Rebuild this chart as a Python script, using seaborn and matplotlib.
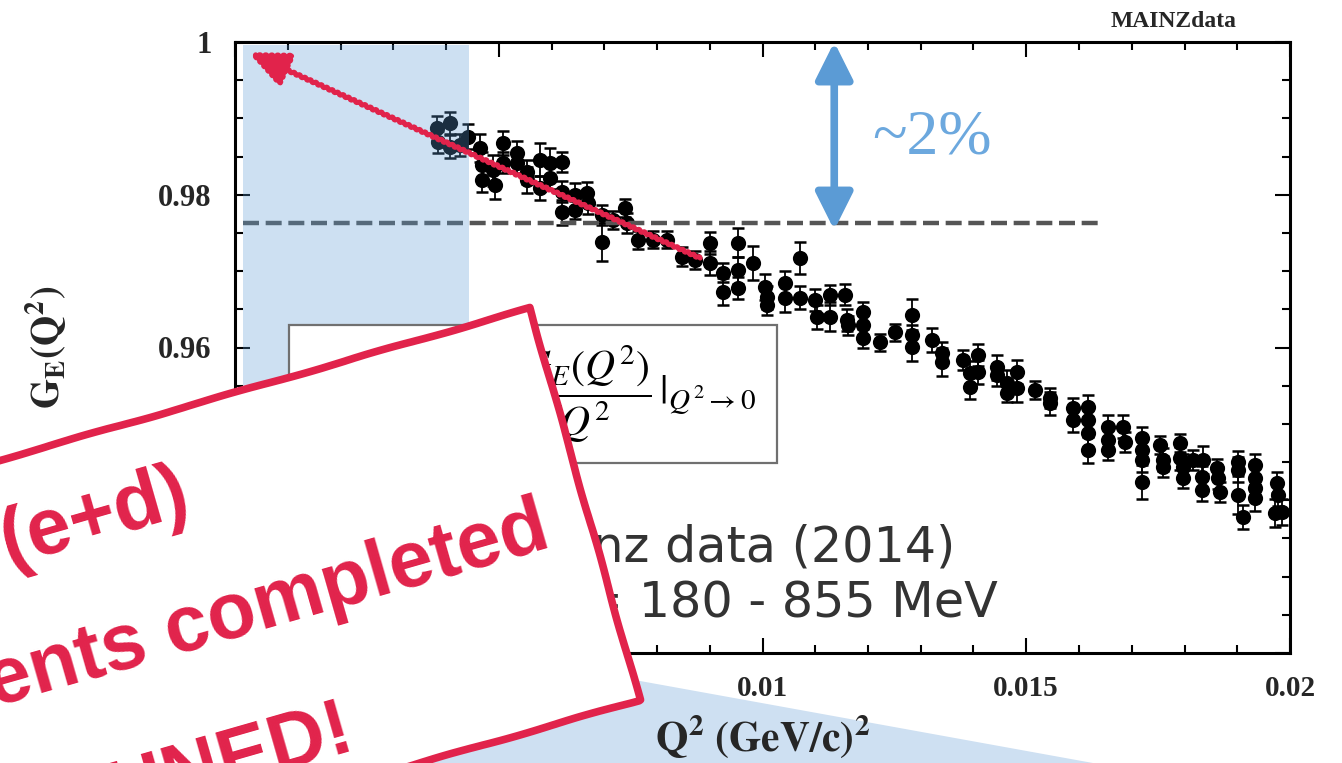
import numpy as np
import pandas as pd
import matplotlib
matplotlib.use("Agg")
import matplotlib.pyplot as plt
import seaborn as sns
from matplotlib.patches import Polygon, Rectangle
from matplotlib.ticker import FixedLocator, FixedFormatter, MultipleLocator

# ---------------------------------------------------------------------------
# Mainz electric form factor data: Q^2 in units of 1e-3 (GeV/c)^2
# ---------------------------------------------------------------------------
q2_milli = [
    3.83, 4.08, 3.85, 4.08, 4.27, 4.42, 4.64, 4.68, 4.68, 4.89,
    4.93, 5.08, 5.08, 5.35, 5.35, 5.54, 5.54, 5.78, 5.78, 5.97,
    5.97, 6.20, 6.20, 6.20, 6.45, 6.45, 6.67, 6.69, 6.96, 6.96,
    7.17, 7.39, 7.43, 7.64, 7.92, 8.19, 8.47, 8.72, 9.00, 9.00,
    9.25, 9.25, 9.54, 9.54, 9.54, 9.82, 10.05, 10.09, 10.09, 10.43,
    10.43, 10.71, 10.71, 11.00, 11.03, 11.28, 11.28, 11.56, 11.60, 11.62,
    11.91, 11.91, 11.91, 12.23, 12.51, 12.83, 12.83, 12.83, 13.21, 13.40,
    13.40, 13.80, 13.93, 13.93, 14.09, 14.09, 14.45, 14.45, 14.64, 14.64,
    14.82, 14.82, 15.17, 15.45, 15.45, 15.89, 15.89, 16.17, 16.17, 16.17,
    16.17, 16.55, 16.55, 16.55, 16.83, 16.87, 17.19, 17.19, 17.19, 17.19,
    17.54, 17.59, 17.59, 17.91, 17.91, 17.97, 17.97, 18.16, 18.35, 18.33,
    18.33, 18.62, 18.64, 18.67, 19.01, 19.01, 19.01, 19.11, 19.34, 19.34,
    19.34, 19.34, 19.75, 19.77, 19.72, 19.85,
]
ge = [
    0.9887, 0.9894, 0.9869, 0.9863, 0.9865, 0.9876, 0.9861, 0.9839, 0.9819, 0.9832,
    0.9813, 0.9868, 0.9842, 0.9855, 0.9842, 0.9830, 0.9819, 0.9846, 0.9809, 0.9842,
    0.9822, 0.9843, 0.9804, 0.9777, 0.9800, 0.9780, 0.9802, 0.9789, 0.9773, 0.9738,
    0.9767, 0.9783, 0.9763, 0.9741, 0.9741, 0.9741, 0.9719, 0.9715, 0.9737, 0.9711,
    0.9698, 0.9673, 0.9737, 0.9701, 0.9678, 0.9711, 0.9679, 0.9666, 0.9656, 0.9684,
    0.9665, 0.9717, 0.9665, 0.9662, 0.9640, 0.9669, 0.9640, 0.9669, 0.9636, 0.9629,
    0.9646, 0.9629, 0.9612, 0.9607, 0.9620, 0.9643, 0.9616, 0.9601, 0.9610, 0.9593,
    0.9581, 0.9584, 0.9567, 0.9548, 0.9590, 0.9568, 0.9574, 0.9564, 0.9554, 0.9540,
    0.9568, 0.9547, 0.9544, 0.9534, 0.9527, 0.9521, 0.9505, 0.9522, 0.9505, 0.9488,
    0.9466, 0.9496, 0.9479, 0.9466, 0.9496, 0.9476, 0.9482, 0.9466, 0.9453, 0.9424,
    0.9472, 0.9453, 0.9444, 0.9475, 0.9455, 0.9444, 0.9429, 0.9453, 0.9453, 0.9430,
    0.9413, 0.9442, 0.9429, 0.9411, 0.9450, 0.9440, 0.9407, 0.9378, 0.9446, 0.9429,
    0.9416, 0.9403, 0.9423, 0.9407, 0.9383, 0.9385,
]
# statistical uncertainties, units of 1e-3
ge_err_milli = [
    1.6, 1.5, 1.4, 1.5, 1.4, 1.6, 1.8, 1.7, 1.6, 2.0,
    1.9, 1.6, 1.4, 1.5, 1.3, 1.6, 1.7, 2.2, 1.6, 1.9,
    1.5, 1.3, 1.4, 1.6, 1.6, 1.2, 1.5, 1.4, 1.3, 2.5,
    1.2, 1.2, 1.3, 1.2, 1.1, 1.1, 1.2, 1.2, 1.4, 1.6,
    1.2, 1.8, 1.9, 1.8, 1.4, 2.2, 1.7, 1.5, 1.4, 1.6,
    1.9, 2.1, 1.5, 1.4, 1.6, 1.3, 1.9, 1.4, 1.5, 1.2,
    1.4, 1.3, 1.2, 1.1, 1.1, 2.0, 1.4, 1.9, 1.6, 1.4,
    1.8, 1.3, 1.5, 1.6, 1.4, 1.6, 1.6, 1.4, 1.6, 1.2,
    1.6, 1.9, 1.2, 1.3, 1.5, 1.3, 1.5, 1.6, 1.4, 2.1,
    1.7, 1.5, 1.6, 1.3, 1.5, 1.3, 1.4, 1.3, 1.6, 2.2,
    1.2, 1.5, 1.4, 1.2, 1.5, 1.7, 1.3, 1.3, 1.8, 1.5,
    1.4, 1.2, 1.4, 1.3, 1.5, 1.6, 2.5, 1.6, 1.4, 1.6,
    1.3, 1.7, 1.4, 1.5, 1.8, 1.7,
]

x_ticks = [0.0, 0.005, 0.01, 0.015, 0.02]
x_tick_labels = ["0", "0.005", "0.01", "0.015", "0.02"]
y_ticks = [0.92, 0.94, 0.96, 0.98, 1.0]
y_tick_labels = ["0.92", "0.94", "0.96", "0.98", "1"]

# annotation values
ref_level = 0.9763                   # dashed reference level
ref_q2_range = (0.00015, 0.01647)
low_q2_band = (0.00015, 0.00444)     # unmeasured low-Q^2 region
low_q2_band_top = 0.9996
spread_q2 = 0.01136                  # position of the ~2% marker
spread_range = (0.97538, 1.0)
extrap_start = (0.00882, 0.9717)     # extrapolation arrow toward Q^2 -> 0
extrap_end = (0.00028, 0.99856)

RED = "#E1234B"
BLUE = "#5B9BD5"

df = pd.DataFrame({
    "Q2": np.array(q2_milli) * 1e-3,
    "GE": np.array(ge),
    "err": np.array(ge_err_milli) * 1e-3,
})

sns.set_theme(style="ticks")
plt.rcParams["font.family"] = ["Liberation Serif", "DejaVu Serif"]
plt.rcParams["mathtext.fontset"] = "stix"

W, H = 1342, 763


def fpos(px, py):
    """figure-fraction position from a pixel position (origin top-left)"""
    return (px / W, 1 - py / H)


fig = plt.figure(figsize=(W / 100, H / 100), dpi=100)
fig.patch.set_facecolor("white")
ax = fig.add_axes([235 / W, 1 - 653 / H, (1290 - 235) / W, (653 - 42) / H])
ax.set_facecolor("white")

# data with error bars
ax.errorbar(df["Q2"], df["GE"], yerr=df["err"], fmt="none", ecolor="black",
            elinewidth=1.3, capsize=4, capthick=1.8, zorder=2)
sns.scatterplot(data=df, x="Q2", y="GE", ax=ax, color="black", s=120,
                marker="o", edgecolor="black", linewidth=0, zorder=2.5,
                legend=False)

# dashed reference level
ax.hlines(ref_level, *ref_q2_range, colors="#555555", linewidth=3.2,
          linestyles=(0, (3.6, 1.5)), zorder=3)

# shaded low-Q^2 region
ax.axvspan(*low_q2_band, ymin=0, ymax=(low_q2_band_top - 0.92) / 0.08,
           color=BLUE, alpha=0.3, lw=0, zorder=4)

# ~2% spread marker
ax.annotate("", xy=(spread_q2, spread_range[1]), xytext=(spread_q2, spread_range[0]),
            arrowprops=dict(arrowstyle="<|-|>,head_length=0.8,head_width=0.4",
                            color=BLUE, lw=5.5, shrinkA=0, shrinkB=0,
                            mutation_scale=28), zorder=5)

# extrapolation arrow
arr = ax.annotate("", xy=extrap_end, xytext=extrap_start,
                  arrowprops=dict(arrowstyle="-|>,head_length=0.8,head_width=0.35",
                                  color=RED, lw=3.5, shrinkA=0, shrinkB=0,
                                  mutation_scale=30), zorder=6)
arr.arrow_patch.set_sketch_params(1.0, 6, 1)

ax.set_xlim(0, 0.02)
ax.set_ylim(0.92, 1.0)
ax.xaxis.set_major_locator(FixedLocator(x_ticks))
ax.xaxis.set_major_formatter(FixedFormatter(x_tick_labels))
ax.xaxis.set_minor_locator(MultipleLocator(0.001))
ax.yaxis.set_major_locator(FixedLocator(y_ticks))
ax.yaxis.set_major_formatter(FixedFormatter(y_tick_labels))
ax.yaxis.set_minor_locator(MultipleLocator(0.005))
ax.tick_params(which="both", direction="in", top=True, right=True,
               width=1.5, color="black")
ax.tick_params(which="major", length=11)
ax.tick_params(axis="y", which="major", labelsize=22, pad=17)
ax.tick_params(axis="x", which="major", labelsize=21, pad=16)
ax.tick_params(which="minor", length=5.5)
for lab in ax.get_xticklabels() + ax.get_yticklabels():
    lab.set_fontweight("bold")
for sp in ax.spines.values():
    sp.set_linewidth(2.2)
    sp.set_color("black")

ax.set_xlabel(r"$\mathbf{Q^2\ (GeV/c)^2}$", fontsize=30)
ax.set_ylabel(r"$\mathbf{G_E(Q^2)}$", fontsize=28)
ax.xaxis.set_label_coords(0.5, -0.098)
ax.yaxis.set_label_coords(-0.157, 0.5)

# labels above / beside the frame
fig.text(*fpos(1174, 27), "MAINZdata", ha="center", va="baseline",
         fontsize=17, fontweight="bold")
fig.text(*fpos(932, 138), "~2%", ha="center", va="center", fontsize=46,
         color="#6CA8DE")

# zoom wedge below the shaded band
fig.patches.append(Polygon([fpos(469, 650), fpos(1115, 767), fpos(243, 767),
                            fpos(243, 650)], closed=True, transform=fig.transFigure,
                           facecolor="#CEE0F2", edgecolor="none", zorder=-1))

# formula box
fig.patches.append(Rectangle(fpos(289, 463), (777 - 289) / W, (463 - 325) / H,
                             transform=fig.transFigure, facecolor="white",
                             edgecolor="#707070", lw=1.6, zorder=5))
fig.text(*fpos(756, 394),
         r"$\langle r_E^2\rangle = -6\,\dfrac{dG_E(Q^2)}{dQ^2}\,|_{Q^2\rightarrow 0}$",
         ha="right", va="center", fontsize=30, color="black", zorder=6)

# data set description
fig.text(*fpos(955, 562), "Mainz data (2014)", ha="right", va="baseline",
         fontsize=35.5, family="DejaVu Sans", color="#333333", zorder=6)
fig.text(*fpos(998, 617), "E = 180 - 855 MeV", ha="right", va="baseline",
         fontsize=35.5, family="DejaVu Sans", color="#333333", zorder=6)

# rotated stamp
ang = np.deg2rad(16)
d = np.array([-np.cos(ang), np.sin(ang)])
tr = np.array([530, 308])
br = np.array([640, 700])
tl = tr + 900 * d
bl = br + 900 * d
stamp = Polygon([fpos(*tr), fpos(*br), fpos(*bl), fpos(*tl)], closed=True,
                transform=fig.transFigure, facecolor="white", edgecolor=RED,
                lw=5.5, joinstyle="round", zorder=10)
stamp.set_sketch_params(0.6, 160, 2)
fig.patches.append(stamp)

stamp_kw = dict(rotation=16, rotation_mode="anchor", va="baseline",
                fontsize=57, fontweight="bold", color=RED,
                family=["Liberation Sans", "DejaVu Sans"], zorder=11)
fig.text(*fpos(8, 565), "(e+d)", ha="left", **stamp_kw)
fig.text(*fpos(-6, 707), "ents completed", ha="left", **stamp_kw)
fig.text(*fpos(357, 748), "UNED!", ha="right", **stamp_kw)

fig.savefig("out.png", dpi=100)
